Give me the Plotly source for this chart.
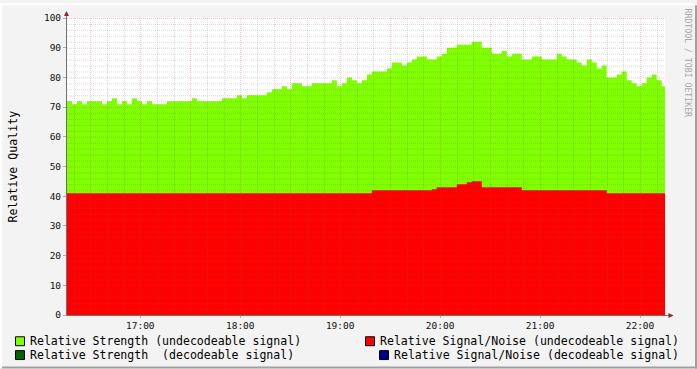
import plotly.graph_objects as go
import pandas as pd

# ---------------- data ----------------
start_time = "2024-01-01 16:16:00"
end_time = "2024-01-01 22:15:00"
step_minutes = 3

strength_undecodeable = [
    72, 71, 72, 71, 72, 72, 72, 71, 72, 73,
    71, 72, 71, 73, 72, 71, 72, 71, 71, 71,
    72, 72, 72, 72, 72, 73, 72, 72, 72, 72,
    72, 73, 73, 73, 74, 73, 74, 74, 74, 74,
    75, 76, 76, 77, 76, 78, 78, 77, 77, 78,
    78, 78, 78, 79, 77, 78, 80, 79, 78, 79,
    81, 82, 82, 82, 83, 85, 85, 84, 85, 86,
    87, 87, 86, 86, 87, 88, 90, 90, 91, 91,
    91, 92, 92, 90, 90, 88, 88, 89, 87, 88,
    88, 86, 86, 87, 87, 86, 86, 86, 88, 87,
    86, 86, 85, 84, 86, 85, 83, 84, 80, 80,
    81, 82, 79, 78, 77, 78, 80, 81, 79, 77,
]
snr_undecodeable = [
    41, 41, 41, 41, 41, 41, 41, 41, 41, 41,
    41, 41, 41, 41, 41, 41, 41, 41, 41, 41,
    41, 41, 41, 41, 41, 41, 41, 41, 41, 41,
    41, 41, 41, 41, 41, 41, 41, 41, 41, 41,
    41, 41, 41, 41, 41, 41, 41, 41, 41, 41,
    41, 41, 41, 41, 41, 41, 41, 41, 41, 41,
    41, 42, 42, 42, 42, 42, 42, 42, 42, 42,
    42, 42, 42, 42.3, 43, 43, 43, 43, 44, 44,
    44.7, 45, 45, 43, 43, 43, 43, 43, 43, 43,
    43, 42, 42, 42, 42, 42, 42, 42, 42, 42,
    42, 42, 42, 42, 42, 42, 42, 42, 41, 41,
    41, 41, 41, 41, 41, 41, 41, 41, 41, 41,
]
y_ticks = [0, 10, 20, 30, 40, 50, 60, 70, 80, 90, 100]
x_tick_labels = ["17:00", "18:00", "19:00", "20:00", "21:00", "22:00"]
legend_labels = [
    "Relative Strength (undecodeable signal)",
    "Relative Signal/Noise (undecodeable signal)",
    "Relative Strength  (decodeable signal)",
    "Relative Signal/Noise (decodeable signal)",
]
legend_colors = ["#7FFF00", "#FF0000", "#006400", "#000088"]

# ---------------- layout geometry ----------------
W, H = 697, 369
L, R, T, B = 67, 32, 15, 54
PW, PH = W - L - R, H - T - B
BG = "#f3f3f3"
FONT = "DejaVu Sans Mono"


def px(x):
    return (x - L) / PW


def py(y):
    return (H - B - y) / PH


n = len(strength_undecodeable)
times = pd.date_range(start_time, periods=n + 1, freq=f"{step_minutes}min")
t0 = pd.Timestamp(start_time)
t1 = pd.Timestamp(end_time)


def time_to_px(t):
    return L + (t - t0) / (t1 - t0) * PW


fig = go.Figure()
fig.add_trace(go.Scatter(
    x=list(times), y=strength_undecodeable + [strength_undecodeable[-1]],
    mode="lines", line=dict(width=0, shape="hv"), fill="tozeroy",
    fillcolor="#7FFF00", hoverinfo="skip", showlegend=False,
))
fig.add_trace(go.Scatter(
    x=list(times), y=snr_undecodeable + [snr_undecodeable[-1]],
    mode="lines", line=dict(width=0, shape="hv"), fill="tozeroy",
    fillcolor="#FF0000", hoverinfo="skip", showlegend=False,
))

shapes = []
minor_col = "rgba(100,100,100,0.24)"
major_col = "rgba(190,60,60,0.28)"
# horizontal grid (snapped to pixel centres)
for v in range(2, 101, 2):
    yp = round(H - B - v * PH / 100) + 0.5
    shapes.append(dict(type="line", xref="paper", yref="paper", x0=0, x1=1,
                       y0=py(yp), y1=py(yp),
                       line=dict(color=major_col if v % 10 == 0 else minor_col,
                                 width=1, dash="1px,1px"), layer="above"))
# vertical grid (snapped to pixel centres)
gt = pd.date_range("2024-01-01 16:20:00", "2024-01-01 22:10:00", freq="10min")
for t in gt:
    major = t.minute % 30 == 0
    xp = round(time_to_px(t)) + 0.5
    shapes.append(dict(type="line", xref="paper", yref="paper", x0=px(xp), x1=px(xp),
                       y0=py(H - B), y1=py(T),
                       line=dict(color=major_col if major else minor_col,
                                 width=1, dash="1px,1px"), layer="above"))
# axis lines
axis_col = "#707070"
shapes.append(dict(type="line", xref="paper", yref="paper", x0=px(66.5), x1=px(670),
                   y0=py(315.5), y1=py(315.5), line=dict(color=axis_col, width=1), layer="above"))
shapes.append(dict(type="line", xref="paper", yref="paper", x0=px(66.5), x1=px(66.5),
                   y0=py(315.5), y1=py(10), line=dict(color=axis_col, width=1), layer="above"))
arrow_col = "#9c2222"
shapes.append(dict(type="path", xref="paper", yref="paper",
                   path=f"M {px(66.5)} {py(8)} L {px(64)} {py(13)} L {px(69)} {py(13)} Z",
                   fillcolor=arrow_col, line=dict(width=0), layer="above"))
shapes.append(dict(type="path", xref="paper", yref="paper",
                   path=f"M {px(673.5)} {py(315.5)} L {px(668.5)} {py(313)} L {px(668.5)} {py(318)} Z",
                   fillcolor=arrow_col, line=dict(width=0), layer="above"))
# frame
shapes.append(dict(type="line", xref="paper", yref="paper", x0=px(0), x1=px(W),
                   y0=py(368), y1=py(368), line=dict(color="#a0a0a0", width=2)))
shapes.append(dict(type="line", xref="paper", yref="paper", x0=px(696), x1=px(696),
                   y0=py(0), y1=py(H), line=dict(color="#a0a0a0", width=2)))
shapes.append(dict(type="line", xref="paper", yref="paper", x0=px(0), x1=px(W),
                   y0=py(1), y1=py(1), line=dict(color="#ffffff", width=2)))
shapes.append(dict(type="line", xref="paper", yref="paper", x0=px(1), x1=px(1),
                   y0=py(0), y1=py(H), line=dict(color="#ffffff", width=2)))

annotations = []
# legend
legend_pos = [(15, 341, 30), (365, 341, 380), (15, 355, 30), (379, 355, 394)]
for (bx, by, tx), lab, col in zip(legend_pos, legend_labels, legend_colors):
    shapes.append(dict(type="rect", xref="paper", yref="paper",
                       x0=px(bx + 0.5), x1=px(bx + 9.5), y0=py(by - 4), y1=py(by + 5),
                       fillcolor=col, line=dict(color="#000000", width=1)))
    annotations.append(dict(text=lab, xref="paper", yref="paper", x=px(tx - 2), y=py(by),
                            xanchor="left", yanchor="middle", showarrow=False,
                            font=dict(family=FONT, size=11.55, color="#000000")))
# y title
annotations.append(dict(text="Relative Quality", xref="paper", yref="paper",
                        x=px(12), y=py(165), textangle=-90, showarrow=False,
                        xanchor="center", yanchor="middle",
                        font=dict(family=FONT, size=11.6, color="#000000")))
# watermark
annotations.append(dict(text="RRDTOOL / TOBI OETIKER", xref="paper", yref="paper",
                        x=px(688), y=py(60), textangle=90, showarrow=False,
                        xanchor="center", yanchor="middle",
                        font=dict(family=FONT, size=8.2, color="#a8a8a8")))

tick_vals_x = [pd.Timestamp(f"2024-01-01 {s}") for s in x_tick_labels]

fig.update_layout(
    width=W, height=H,
    margin=dict(l=L, r=R, t=T, b=B, pad=0),
    paper_bgcolor=BG, plot_bgcolor="#ffffff",
    showlegend=False,
    shapes=shapes, annotations=annotations,
    xaxis=dict(type="date", range=[t0, t1], showgrid=False, zeroline=False,
               showline=False, tickvals=tick_vals_x, ticktext=x_tick_labels,
               ticks="outside", ticklen=2, tickcolor="rgba(190,60,60,0.5)",
               tickfont=dict(family=FONT, size=9.5, color="#111111"), fixedrange=True),
    yaxis=dict(range=[0, 100], showgrid=False, zeroline=False, showline=False,
               tickvals=y_ticks, ticktext=[str(v) for v in y_ticks],
               ticks="outside", ticklen=3, tickcolor="rgba(190,60,60,0.5)",
               tickfont=dict(family=FONT, size=9.5, color="#111111"), fixedrange=True),
)

fig.write_html("out.html")
